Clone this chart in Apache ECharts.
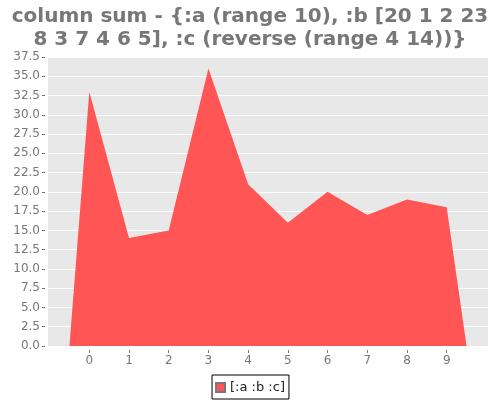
<!DOCTYPE html>
<html><head><meta charset="utf-8">
<script src="https://cdn.jsdelivr.net/npm/echarts@6/dist/echarts.min.js"></script>
<style>html,body{margin:0;padding:0;background:#fff}#c{width:500px;height:400px}</style>
</head><body><div id="c"></div>
<script>
const titleText = "column sum - {:a (range 10), :b [20 1 2 23\n8 3 7 4 6 5], :c (reverse (range 4 14))}";
const seriesName = "[:a :b :c]";
const xValues = [-0.5, 0, 1, 2, 3, 4, 5, 6, 7, 8, 9, 9.5];
const sumValues = [0, 33, 14, 15, 36, 21, 16, 20, 17, 19, 18, 0];
const xTicks = [0, 1, 2, 3, 4, 5, 6, 7, 8, 9];

const chart = echarts.init(document.getElementById('c'), null, {renderer: 'canvas'});
const font = 'DejaVu Sans';
chart.setOption({
  animation: false,
  backgroundColor: '#fff',
  title: {
    text: titleText, left: 'center', top: 0,
    textStyle: {fontFamily: font, fontWeight: 'bold', fontSize: 20, color: '#777', lineHeight: 23}
  },
  legend: {
    bottom: 1, left: 'center',
    data: [{name: seriesName, icon: 'rect'}],
    itemWidth: 9, itemHeight: 9, itemGap: 4,
    borderColor: '#000', borderWidth: 1, padding: [6, 4, 5, 3],
    textStyle: {fontFamily: font, fontSize: 13, color: '#222', padding: [0,0,0,0]}
  },
  grid: {left: 48, right: 12, top: 57, bottom: 54, show: true, backgroundColor: '#e8e8e8', borderWidth: 0},
  xAxis: {
    type: 'value', min: -1.04, max: 10.04, offset: 4,
    axisLine: {show: false, onZero: false},
    axisTick: {show: true, customValues: xTicks, length: 3, lineStyle: {color: '#777'}},
    axisLabel: {customValues: xTicks, color: '#777', fontFamily: font, fontSize: 12, margin: 5},
    splitLine: {show: false}
  },
  yAxis: {
    type: 'value', min: 0, max: 37.5, interval: 2.5, offset: 3,
    axisLine: {show: false, onZero: false},
    axisTick: {show: true, length: 3, lineStyle: {color: '#777'}},
    axisLabel: {color: '#777', fontFamily: font, fontSize: 12, margin: 5, formatter: v => v.toFixed(1)},
    splitLine: {show: true, lineStyle: {color: '#fff', width: 1}}
  },
  series: [{
    name: seriesName, type: 'line',
    data: xValues.map((x, i) => [x, sumValues[i]]),
    showSymbol: false, symbol: 'none',
    lineStyle: {width: 0},
    itemStyle: {color: '#ff5555', borderColor: '#777', borderWidth: 1},
    areaStyle: {color: '#ff5555', opacity: 1}
  }]
});
</script></body></html>
